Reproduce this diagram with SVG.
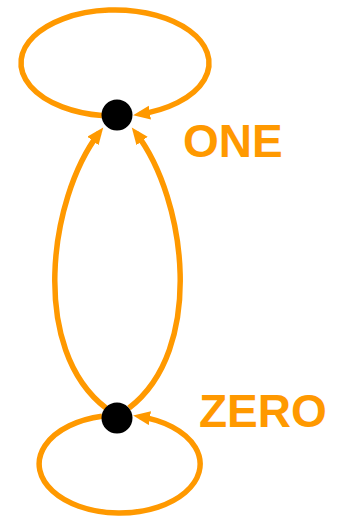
<svg xmlns="http://www.w3.org/2000/svg" width="340" height="521" viewBox="0 0 340 521">
<style>
.edge{fill:none;stroke:#FF9900;stroke-width:5.5}
.node{fill:#000}
.lbl{font-family:"Liberation Sans",Arial,sans-serif;font-weight:bold;font-size:46px;fill:#FF9900}
</style>
<defs>
<marker id="arr" markerUnits="userSpaceOnUse" markerWidth="20" markerHeight="16" refX="10" refY="7" orient="auto">
<path d="M0,0 L17,7 L0,14 z" fill="#FF9900"/>
</marker>
</defs>
<rect width="340" height="521" fill="#fff"/>
<g id="connectors">
<path class="edge" d="M102,115.5 A94,53 0 1 1 140,114.1" marker-end="url(#arr)"/>
<path class="edge" d="M102,416.2 A80.5,49 0 1 0 140,416.6" marker-end="url(#arr)"/>
<path class="edge" d="M106,408 C30,350 48,200 99,133" marker-end="url(#arr)"/>
<path class="edge" d="M129,408 C205,350 187,200 136,133" marker-end="url(#arr)"/>
</g>
<g id="one">
<circle class="node" cx="117" cy="115" r="15.5"/>
<text class="lbl" x="183" y="157">ONE</text>
</g>
<g id="zero">
<circle class="node" cx="117" cy="418" r="15.5"/>
<text class="lbl" x="199" y="427">ZERO</text>
</g>
</svg>
